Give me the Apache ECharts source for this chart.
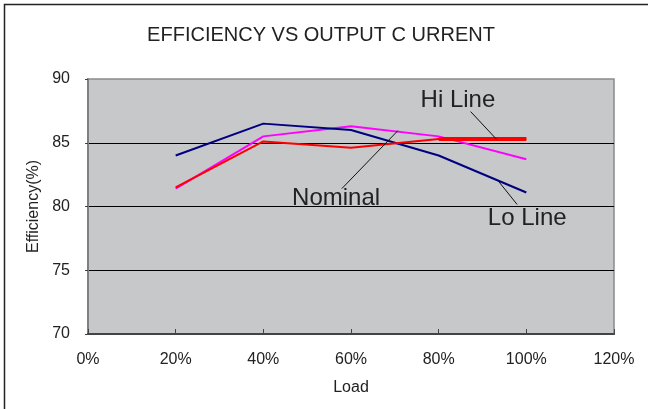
<!DOCTYPE html>
<html>
<head>
<meta charset="utf-8">
<script src="https://cdn.jsdelivr.net/npm/echarts@6/dist/echarts.min.js"></script>
<style>
  html, body { margin: 0; padding: 0; background: #fff; }
  #chart { width: 648px; height: 409px; }
</style>
</head>
<body>
<div id="chart"></div>
<script>
// load points (%), efficiency (%) per input line
const loads = [20, 40, 60, 80, 100]
const loLine = [84.0, 86.5, 86.0, 84.0, 81.1]
const nominal = [81.4, 85.5, 86.3, 85.5, 83.7]
const hiLine = [81.5, 85.1, 84.6, 85.3, 85.3]
const xTicks = [0, 20, 40, 60, 80, 100, 120]
const yTicks = [70, 75, 80, 85, 90]

// callouts in data units: [label, textX, textY, fromX, fromY, toX, toY]
const callouts = [
  ['Hi Line', 84.4, 88.3, 87.3, 87.44, 93.2, 85.27],
  ['Lo Line', 100.2, 79.1, 93.6, 82.0, 97.9, 80.16],
  ['Nominal', 56.6, 80.67, 57.9, 81.4, 70.7, 85.95],
]

const font = 'Liberation Sans, Arial, sans-serif'
const pairs = arr => loads.map((x, i) => [x, arr[i]])

const chart = echarts.init(document.getElementById('chart'), null, { renderer: 'canvas' })

chart.setOption({
  animation: false,
  backgroundColor: '#fff',
  title: {
    text: 'EFFICIENCY VS OUTPUT C URRENT',
    left: 316,
    top: 20,
    textAlign: 'center',
    textStyle: { fontFamily: font, fontSize: 20, fontWeight: 'normal', color: '#222' },
  },
  grid: {
    left: 88,
    right: 34,
    top: 79,
    bottom: 75,
    show: true,
    backgroundColor: '#c7c8ca',
    borderColor: '#8a8a8a',
    borderWidth: 1.5,
  },
  xAxis: {
    type: 'value',
    min: xTicks[0],
    max: xTicks[xTicks.length - 1],
    interval: 20,
    name: 'Load',
    nameLocation: 'middle',
    nameGap: 46,
    nameTextStyle: { fontFamily: font, fontSize: 16, color: '#222' },
    axisLine: { lineStyle: { color: '#444', width: 2 } },
    axisTick: { inside: true, length: 5, lineStyle: { color: '#444' } },
    axisLabel: { formatter: '{value}%', margin: 18, fontFamily: font, fontSize: 16, color: '#222' },
    splitLine: { show: false },
  },
  yAxis: {
    type: 'value',
    min: yTicks[0],
    max: yTicks[yTicks.length - 1],
    interval: 5,
    name: 'Efficiency(%)',
    nameLocation: 'middle',
    nameGap: 46,
    nameTextStyle: { fontFamily: font, fontSize: 16, color: '#222' },
    axisLine: { show: true, lineStyle: { color: '#808080', width: 2 } },
    axisTick: { show: true, length: 3, lineStyle: { color: '#444' } },
    axisLabel: { margin: 18, fontFamily: font, fontSize: 16, color: '#222' },
    splitLine: { show: true, showMinLine: false, showMaxLine: false, lineStyle: { color: '#000', width: 1 } },
  },
  series: [
    {
      name: 'Nominal', type: 'line', data: pairs(nominal), symbol: 'none',
      lineStyle: { color: '#ff00ff', width: 2 },
    },
    {
      name: 'Lo Line', type: 'line', data: pairs(loLine), symbol: 'none',
      lineStyle: { color: '#000080', width: 2 },
    },
    {
      name: 'Hi Line', type: 'line', data: pairs(hiLine), symbol: 'none',
      lineStyle: { color: '#ff0000', width: 2 },
    },
    {
      // thicker tail of the hi line (80%..100%)
      name: 'Hi Line tail', type: 'line', symbol: 'none',
      data: pairs(hiLine).filter(p => p[0] >= 80),
      lineStyle: { color: '#ff0000', width: 4 },
    },
  ],
})

// outer frame (top + left edge only) and callouts, placed through the axes
const px = (x, y) => chart.convertToPixel({ gridIndex: 0 }, [x, y])
const graphics = [{
  type: 'polyline', silent: true,
  shape: { points: [[4.5, 420], [4.5, 4.5], [660, 4.5]] },
  style: { fill: 'none', stroke: '#222', lineWidth: 1.5 },
}]
callouts.forEach(([label, tx, ty, x1, y1, x2, y2]) => {
  const t = px(tx, ty), a = px(x1, y1), b = px(x2, y2)
  graphics.push({
    type: 'text', x: t[0], y: t[1], z: 100,
    style: { text: label, fontFamily: font, fontSize: 24, fill: '#222', align: 'center', verticalAlign: 'middle' },
  })
  graphics.push({
    type: 'line', z: 100,
    shape: { x1: a[0], y1: a[1], x2: b[0], y2: b[1] },
    style: { stroke: '#111', lineWidth: 1 },
  })
})
chart.setOption({ graphic: graphics })
</script>
</body>
</html>
